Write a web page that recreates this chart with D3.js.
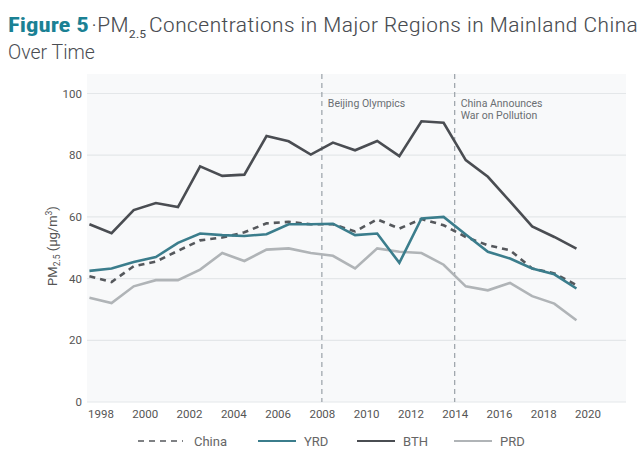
<!DOCTYPE html>
<html><head><meta charset="utf-8">
<script src="https://cdn.jsdelivr.net/npm/d3@7"></script>
<style>
body{margin:0;background:#fff;}
svg{display:block;font-family:Roboto,"Liberation Sans",sans-serif;}
</style></head>
<body><svg id="c" width="640" height="460"></svg>
<script>
const years = [1998,1999,2000,2001,2002,2003,2004,2005,2006,2007,2008,2009,2010,2011,2012,2013,2014,2015,2016,2017,2018,2019,2020];
const china = [40.8,38.9,44,45.5,49,52.4,53.3,55,57.9,58.4,57.6,57.6,55.3,59.2,56.2,59.3,57.3,53.5,50.8,49.2,43.3,41.7,37.9];
const yrd   = [42.5,43.3,45.4,47,51.6,54.6,54.1,53.8,54.4,57.6,57.6,57.8,54.1,54.6,45.1,59.5,60,54.3,48.7,46.5,43.3,41.4,36.8];
const bth   = [57.6,54.7,62.2,64.5,63.2,76.4,73.3,73.7,86.2,84.5,80.2,84.1,81.6,84.6,79.7,91,90.5,78.4,73,65,56.9,53.5,49.7];
const prd   = [33.8,32.1,37.5,39.5,39.5,42.9,48.3,45.7,49.4,49.8,48.3,47.4,43.3,49.8,48.7,48.3,44.5,37.5,36.2,38.6,34.3,31.9,26.5];
const xTicks = [1998,2000,2002,2004,2006,2008,2010,2012,2014,2016,2018,2020];
const yTicks = [0,20,40,60,80,100];
const events = [{year:2008, lines:["Beijing Olympics"]},{year:2014, lines:["China Announces","War on Pollution"]}];
const seriesNames = ["China","YRD","BTH","PRD"];
const seriesData = [china, yrd, bth, prd];
const seriesColor = ["#55585c","#3b7d8c","#4a4d52","#b0b4b7"];
const seriesDash = ["6,5",null,null,null];

const svg = d3.select("#c");
const bgL = 87, bgR = 626, bgT = 74;
const x = d3.scaleLinear().domain([1998,2020]).range([100.5,587.5]);
const y = d3.scaleLinear().domain([0,100]).range([402,93.5]);

// title
const t = svg.append("text").attr("x",8).attr("y",32).attr("font-size",19.5).attr("fill","#4a4d52")
  .attr("font-family","'Roboto Condensed',Roboto,sans-serif");
t.append("tspan").attr("font-weight","bold").attr("fill","#1a8194").text("Figure 5");
t.append("tspan").attr("font-weight","300").attr("dx",2).text("·PM");
t.append("tspan").attr("font-size",11).attr("dy",6).text("2.5");
t.append("tspan").attr("dy",-6).attr("dx",2).attr("font-weight","300").text("Concentrations in Major Regions in Mainland China");
svg.append("text").attr("x",8).attr("y",59).attr("font-size",19.5).attr("font-weight","300").attr("fill","#4a4d52").text("Over Time");
t.attr("textLength", 630).attr("lengthAdjust","spacingAndGlyphs");

// background
svg.append("rect").attr("x",bgL).attr("y",bgT).attr("width",bgR-bgL).attr("height",y(0)-bgT).attr("fill","#f8f9fa");

// grid
svg.append("g").selectAll("line").data(yTicks).join("line")
  .attr("x1",bgL).attr("x2",bgR).attr("y1",d=>y(d)).attr("y2",d=>y(d))
  .attr("stroke","#e4e7e9").attr("stroke-width",1.2);

// y axis labels
const yAxis = d3.axisLeft(y).tickValues(yTicks).tickSize(0).tickPadding(4);
const gy = svg.append("g").attr("transform",`translate(${bgL-1},0)`).call(yAxis);
gy.select(".domain").remove();
gy.selectAll("text").attr("font-size",11.5).attr("fill","#555").attr("font-family","Roboto,sans-serif");

// x axis labels
const xAxis = d3.axisBottom(x).tickValues(xTicks).tickFormat(d3.format("d")).tickSize(0).tickPadding(8);
const gx = svg.append("g").attr("transform",`translate(0,${y(0)})`).call(xAxis);
gx.select(".domain").remove();
gx.selectAll("text").attr("font-size",11.5).attr("fill","#555").attr("font-family","Roboto,sans-serif");

// y label
const yl = svg.append("text").attr("transform","translate(57,246) rotate(-90)").attr("text-anchor","middle")
  .attr("font-size",13).attr("fill","#555");
yl.append("tspan").text("PM");
yl.append("tspan").attr("font-size",8.5).attr("dy",3).text("2.5");
yl.append("tspan").attr("dy",-3).text(" (µg/m");
yl.append("tspan").attr("font-size",8.5).attr("dy",-5).text("3");
yl.append("tspan").attr("dy",5).text(")");

// event lines
events.forEach(e=>{
  svg.append("line").attr("x1",x(e.year)).attr("x2",x(e.year)).attr("y1",bgT).attr("y2",y(0))
    .attr("stroke","#9aa1a8").attr("stroke-width",1.2).attr("stroke-dasharray","5,4");
  const tx = svg.append("text").attr("x",x(e.year)+5).attr("y",107).attr("font-size",10.5).attr("fill","#6a6e72");
  e.lines.forEach((l,i)=>tx.append("tspan").attr("x",x(e.year)+6).attr("dy",i?12:0).text(l));
});

// lines
const line = d3.line().x((d,i)=>x(years[i]-0.5)).y(d=>y(d));
const order = [3,2,0,1];
order.forEach(k=>{
  svg.append("path").datum(seriesData[k]).attr("d",line).attr("fill","none")
    .attr("stroke",seriesColor[k]).attr("stroke-width",2.6).attr("stroke-linejoin","miter")
    .attr("stroke-dasharray",seriesDash[k]);
});

// legend
const legX = [138,258,357,454];
const lg = svg.append("g");
seriesNames.forEach((n,i)=>{
  lg.append("line").attr("x1",legX[i]).attr("x2",legX[i]+ (i===0?45:38)).attr("y1",441).attr("y2",441)
    .attr("stroke",seriesColor[i]).attr("stroke-width",i===0?1.6:1.8).attr("stroke-dasharray",i===0?"6,5":null);
  lg.append("text").attr("x",legX[i]+(i===0?56:46)).attr("y",445.5).attr("font-size",13).attr("fill","#666").text(n);
});
</script></body></html>
